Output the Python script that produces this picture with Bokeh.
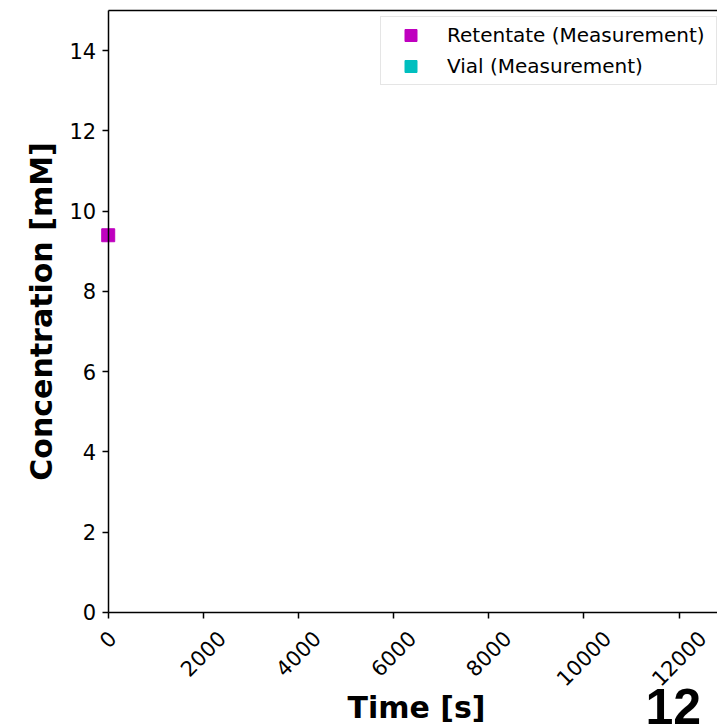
import math
import numpy as np
from bokeh.plotting import figure
from bokeh.models import (Range1d, FixedTicker, LinearAxis, Label, LabelSet,
                          ColumnDataSource, CustomJSTickFormatter)
from bokeh.core.properties import value
from bokeh.embed import file_html
from bokeh.resources import INLINE

# ---- data ----
retentate_time = [0]
retentate_conc = [9.4]
vial_time = [np.nan]      # no vial measurement shown yet
vial_conc = [np.nan]
x_ticks = [0, 2000, 4000, 6000, 8000, 10000, 12000]
y_ticks = [0, 2, 4, 6, 8, 10, 12, 14]
x_tick_labels = [str(t) for t in x_ticks]
Y_TOP = 15
X_START, X_END = -2264, 12806
Y_START, Y_END = -2.791, 15.249

FONT = "DejaVu Sans"
TICK_PX = 21

p = figure(width=717, height=724, output_backend="svg", toolbar_location=None,
           x_range=Range1d(X_START, X_END), y_range=Range1d(Y_START, Y_END),
           min_border=0)
p.grid.visible = False
p.outline_line_color = None
p.background_fill_color = "white"
p.border_fill_color = "white"

# x axis (bottom spine at y = 0)
xa = p.xaxis[0]
xa.fixed_location = 0
xa.bounds = (0, X_END)
xa.ticker = FixedTicker(ticks=x_ticks)
xa.formatter = CustomJSTickFormatter(code="return ''")
xa.major_label_text_font_size = "0px"
xa.major_tick_in = 0
xa.major_tick_out = 6
xa.minor_tick_line_color = None
xa.axis_line_width = 1.5
xa.major_tick_line_width = 1.5
xa.axis_line_color = "black"
xa.major_tick_line_color = "black"

# y axis (left spine at x = 0)
ya = p.yaxis[0]
ya.fixed_location = 0
ya.bounds = (0, Y_TOP)
ya.ticker = FixedTicker(ticks=y_ticks)
ya.major_tick_in = 0
ya.major_tick_out = 6
ya.minor_tick_line_color = None
ya.axis_line_width = 1.5
ya.axis_line_color = "black"
ya.major_tick_line_width = 1.5
ya.major_tick_line_color = "black"
ya.major_label_text_font = FONT
ya.major_label_text_font_size = f"{TICK_PX}px"
ya.major_label_text_color = "black"
ya.major_label_standoff = 6

# top spine
top = LinearAxis(ticker=FixedTicker(ticks=[]), fixed_location=Y_TOP, bounds=(0, X_END),
                 major_tick_in=0, major_tick_out=0, minor_tick_in=0, minor_tick_out=0,
                 major_label_standoff=0, axis_line_width=1.5, axis_line_color="black")
p.add_layout(top, "above")

# x tick labels, rotated 45 degrees, rotated box centred under each tick
digit_w = 0.636 * TICK_PX
shift = [0.354 * (len(s) * digit_w - 1.5) for s in x_tick_labels]
tick_src = ColumnDataSource(dict(x=x_ticks, text=x_tick_labels, dx=shift))
p.add_layout(LabelSet(x="x", y=0, text="text", source=tick_src, angle=math.pi / 4,
                      text_align="right", text_baseline="middle", x_offset="dx", y_offset=-22,
                      text_font=value(FONT), text_font_size=f"{TICK_PX}px", text_color="black"))

# data
p.scatter(retentate_time, retentate_conc, marker="square", size=13,
          fill_color="#bf00bf", line_color="#bf00bf",
          legend_label="Retentate (Measurement)")
p.scatter(vial_time, vial_conc, marker="square", size=13,
          fill_color="#00bfbf", line_color="#00bfbf",
          legend_label="Vial (Measurement)")

lg = p.legend[0]
lg.location = (380, 639)
lg.padding = 3
lg.spacing = 1
lg.margin = 0
lg.glyph_height = 30
lg.glyph_width = 53
lg.label_height = 30
lg.label_width = 266
lg.label_standoff = 10
lg.label_text_font = FONT
lg.label_text_font_size = "20px"
lg.label_text_color = "black"
lg.label_text_baseline = "middle"
lg.border_line_color = "#cccccc"
lg.border_line_width = 1.5
lg.background_fill_color = "white"
lg.background_fill_alpha = 0.8

# axis titles and panel label
p.add_layout(Label(x=416, y=17, x_units="screen", y_units="screen", text="Time [s]",
                   text_font=FONT, text_font_size="30px", text_font_style="bold",
                   text_align="center", text_baseline="middle", text_color="black"))
p.add_layout(Label(x=41, y=413, x_units="screen", y_units="screen",
                   text="Concentration [mM]", angle=math.pi / 2,
                   text_font=FONT, text_font_size="30px", text_font_style="bold",
                   text_align="center", text_baseline="middle", text_color="black"))
p.add_layout(Label(x=645, y=18, x_units="screen", y_units="screen", text="12",
                   text_font="Liberation Sans", text_font_size="50px",
                   text_font_style="bold", text_align="left",
                   text_baseline="middle", text_color="black"))

open("out.html", "w").write(file_html(p, INLINE))
